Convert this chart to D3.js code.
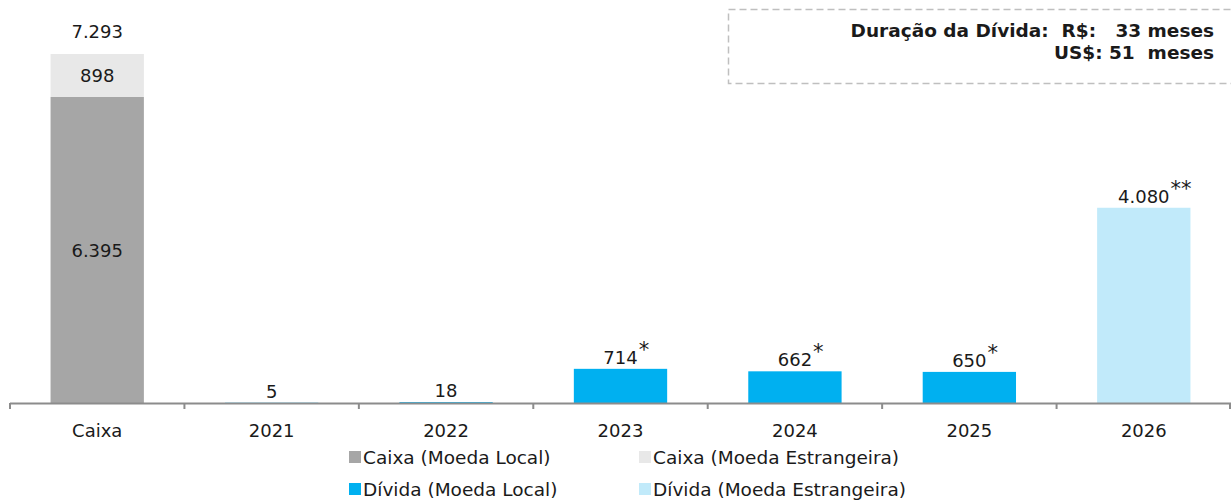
<!DOCTYPE html>
<html>
<head>
<meta charset="utf-8">
<script src="https://cdn.jsdelivr.net/npm/d3@7"></script>
<style>
  body { margin: 0; background: #fff; }
  svg text { font-family: "DejaVu Sans", Verdana, sans-serif; fill: #1a1a1a; }
</style>
</head>
<body>
<svg id="chart" width="1231" height="500"></svg>
<script>
// dados
var categorias = ["Caixa", "2021", "2022", "2023", "2024", "2025", "2026"];
var caixaLocal = [6395, 0, 0, 0, 0, 0, 0];
var caixaEstrangeira = [898, 0, 0, 0, 0, 0, 0];
var dividaLocal = [0, 5, 18, 714, 662, 650, 0];
var dividaEstrangeira = [0, 0, 0, 0, 0, 0, 4080];
var notas = ["", "", "", "*", "*", "*", "**"];
var series = ["Caixa (Moeda Local)", "Caixa (Moeda Estrangeira)", "Dívida (Moeda Local)", "Dívida (Moeda Estrangeira)"];
var cores = ["#a6a6a6", "#e8e8e8", "#00b0f0", "#c1eafa"];
var duracao = ["Duração da Dívida:  R$:   33 meses", "US$: 51  meses"];

var svg = d3.select("#chart");
var fmt = d3.formatLocale({decimal: ",", thousands: ".", grouping: [3], currency: ["R$", ""]}).format(",d");

var baseY = 403;
var x = d3.scaleBand().domain(categorias).range([10, 1231]).paddingInner(0.465).paddingOuter(0.2325);
var y = d3.scaleLinear().domain([0, 7293]).range([baseY, 54]);

var dados = categorias.map(function(c, i){
	return {cat: c, v: [caixaLocal[i], caixaEstrangeira[i], dividaLocal[i], dividaEstrangeira[i]], nota: notas[i]};
});

var stack = d3.stack().keys([0, 1, 2, 3]).value(function(d, k){ return d.v[k]; });
var camadas = stack(dados);

var g = svg.append("g");
g.selectAll("g.serie")
	.data(camadas)
	.enter()
	.append("g")
	.attr("fill", function(d, i){ return cores[i]; })
	.selectAll("rect")
	.data(function(d){ return d; })
	.enter()
	.append("rect")
	.attr("x", function(d){ return x(d.data.cat); })
	.attr("width", x.bandwidth())
	.attr("y", function(d){ return y(d[1]); })
	.attr("height", function(d){ return y(d[0]) - y(d[1]); });

// eixo
var axisScale = d3.scalePoint().domain(d3.range(categorias.length + 1)).range([10, 1231]);
svg.append("line")
	.attr("x1", 10).attr("x2", 1231)
	.attr("y1", baseY + 0.5).attr("y2", baseY + 0.5)
	.attr("stroke", "#8c8c8c").attr("stroke-width", 2);
svg.selectAll("line.tick")
	.data(d3.range(categorias.length + 1))
	.enter()
	.append("line")
	.attr("x1", function(d){ return Math.min(axisScale(d), 1230); })
	.attr("x2", function(d){ return Math.min(axisScale(d), 1230); })
	.attr("y1", baseY).attr("y2", baseY + 6)
	.attr("stroke", "#8c8c8c").attr("stroke-width", 2);
svg.selectAll("text.cat")
	.data(categorias)
	.enter()
	.append("text")
	.attr("x", function(d){ return x(d) + x.bandwidth() / 2; })
	.attr("y", 437)
	.attr("text-anchor", "middle")
	.style("font-size", "18px")
	.text(function(d){ return d; });

// rotulos
var cx = x("Caixa") + x.bandwidth() / 2;
svg.append("text").attr("x", cx).attr("y", (y(0) + y(caixaLocal[0])) / 2 + 7)
	.attr("text-anchor", "middle").style("font-size", "18px").text(fmt(caixaLocal[0]));
svg.append("text").attr("x", cx).attr("y", (y(caixaLocal[0]) + y(caixaLocal[0] + caixaEstrangeira[0])) / 2 + 7)
	.attr("text-anchor", "middle").style("font-size", "18px").text(fmt(caixaEstrangeira[0]));
svg.append("text").attr("x", cx).attr("y", y(caixaLocal[0] + caixaEstrangeira[0]) - 16)
	.attr("text-anchor", "middle").style("font-size", "18px").text(fmt(caixaLocal[0] + caixaEstrangeira[0]));

var outros = dados.slice(1);
var lab = svg.selectAll("text.val")
	.data(outros)
	.enter()
	.append("text")
	.attr("x", function(d){ return x(d.cat) + x.bandwidth() / 2; })
	.attr("y", function(d){ return y(d3.sum(d.v)) - 5; })
	.attr("text-anchor", "middle")
	.style("font-size", "18px");
lab.append("tspan").text(function(d){ return fmt(d3.sum(d.v)); });
lab.append("tspan")
	.attr("dx", 1)
	.attr("dy", -7)
	.style("font-size", "21px")
	.text(function(d){ return d.nota; });
// centraliza o numero, nao o asterisco
lab.each(function(d){
	if (!d.nota) return;
	var t = d3.select(this).select("tspan:last-child").node().getComputedTextLength() + 1;
	d3.select(this).attr("x", x(d.cat) + x.bandwidth() / 2 + t / 2);
});

// legenda
var legX = [349, 639], legY = [457, 489];
var leg = svg.selectAll("g.leg")
	.data(series)
	.enter()
	.append("g")
	.attr("transform", function(d, i){ return "translate(" + legX[i % 2] + "," + legY[Math.floor(i / 2)] + ")"; });
leg.append("rect").attr("x", 0).attr("y", -6).attr("width", 12).attr("height", 12)
	.attr("fill", function(d, i){ return cores[i]; });
leg.append("text").attr("x", 14).attr("y", 7).style("font-size", "18.5px").text(function(d){ return d; });

// caixa de duracao
svg.append("rect")
	.attr("x", 728.5).attr("y", 9.5).attr("width", 520).attr("height", 74)
	.attr("fill", "none").attr("stroke", "#bfbfbf").attr("stroke-width", 1.5)
	.attr("stroke-dasharray", "7,4");
svg.selectAll("text.dur")
	.data(duracao)
	.enter()
	.append("text")
	.attr("x", 1214)
	.attr("y", function(d, i){ return 37 + i * 22; })
	.attr("text-anchor", "end")
	.style("font-size", "18.5px")
	.style("font-weight", "bold")
	.style("white-space", "pre")
	.attr("xml:space", "preserve")
	.text(function(d){ return d; });
</script>
</body>
</html>
